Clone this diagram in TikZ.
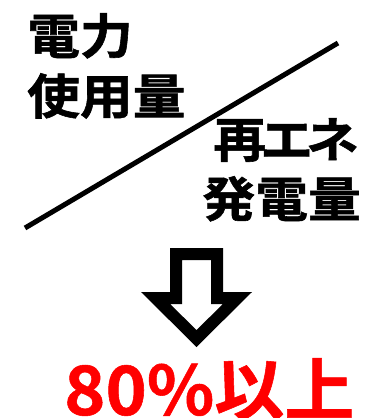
\documentclass[tikz,border=0pt]{standalone}
\usepackage{fontspec}
\newfontfamily\jpfont[FakeBold=1.2,FakeStretch=1.1]{Noto Sans CJK JP Bold}
\newfontfamily\redfont[FakeBold=0.8,FakeStretch=1.03]{Noto Sans CJK JP Bold}
\definecolor{myred}{RGB}{255,0,0}
\begin{document}
\begin{tikzpicture}[x=1pt,y=-1pt,
  jtext/.style={inner sep=0pt,font=\jpfont\fontsize{48}{48}\selectfont},
  redtext/.style={inner sep=0pt,text=myred,font=\redfont\fontsize{68}{68}\selectfont}]
\useasboundingbox (0,0) rectangle (369,418);
\node[jtext,anchor=north west] (t1) at (27,13) {電力};
\node[jtext,anchor=north west] (t2) at (27,73) {使用量};
\node[jtext,anchor=north east] (t3) at (359,118) {再\kern-6ptエ\kern-7ptネ};
\node[jtext,anchor=north east] (t4) at (361,176) {発電量};
\coordinate (ls) at (25,228);
\coordinate (le) at (338,43);
\draw[line width=5pt] (ls) -- (le);
\fill[black,even odd rule]
  (170,248) -- (223,248) -- (223,292) -- (252,292) -- (196.5,347) -- (141,292) -- (170,292) -- cycle
  (182,260) -- (211,260) -- (211,304) -- (223,304) -- (196.5,330) -- (170,304) -- (182,304) -- cycle;
\node[redtext,anchor=base west] (t5) at (64,415) {80\%以上};
\end{tikzpicture}
\end{document}
